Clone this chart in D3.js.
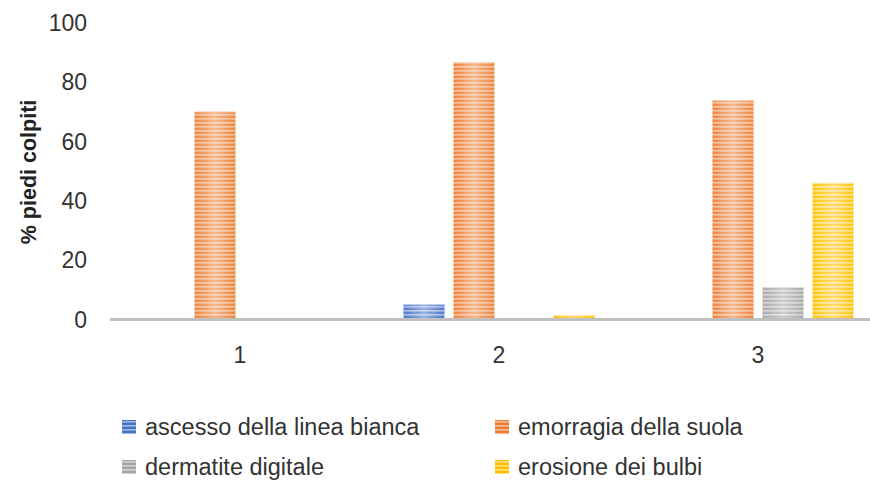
<!DOCTYPE html>
<html>
<head>
<meta charset="utf-8">
<script src="https://cdn.jsdelivr.net/npm/d3@7"></script>
<style>
  html, body { margin: 0; padding: 0; background: #fff; }
  svg { display: block; font-family: "Liberation Sans", Arial, sans-serif; }
</style>
</head>
<body>
<svg id="chart" width="870" height="480"></svg>
<script>
// Categories (groups along the x axis)
const categories = ["1", "2", "3"];

// Series names and colours
const seriesNames = [
  "ascesso della linea bianca",
  "emorragia della suola",
  "dermatite digitale",
  "erosione dei bulbi"
];
const seriesColors = ["#4472C4", "#ED7D31", "#A5A5A5", "#FFC000"];

// Percentage of affected feet per series, one value per category
const ascesso = [0, 5, 0];
const emorragia = [70, 86.7, 73.8];
const dermatite = [0, 0, 10.8];
const erosione = [0, 1.3, 46];

const yTicks = [0, 20, 40, 60, 80, 100];

const seriesValues = [ascesso, emorragia, dermatite, erosione];

const svg = d3.select("#chart");

// Scales
const y = d3.scaleLinear().domain([0, 100]).range([319.5, 23]);
const x0 = d3.scaleBand().domain(categories).range([110.5, 887.5]).padding(0);
const x1 = d3.scaleBand().domain(d3.range(seriesNames.length))
  .range([-100, 100]).paddingInner(0.18).paddingOuter(0.09);

// Striped fill patterns with a soft horizontal sheen
const defs = svg.append("defs");
const sheen = defs.append("linearGradient").attr("id", "sheen")
  .attr("x1", "0%").attr("x2", "100%").attr("y1", "0%").attr("y2", "0%");
sheen.append("stop").attr("offset", "0%").attr("stop-color", "#fff").attr("stop-opacity", 0.05);
sheen.append("stop").attr("offset", "50%").attr("stop-color", "#fff").attr("stop-opacity", 0.45);
sheen.append("stop").attr("offset", "100%").attr("stop-color", "#fff").attr("stop-opacity", 0.05);

seriesColors.forEach((c, i) => {
  const p = defs.append("pattern")
    .attr("id", "stripe" + i)
    .attr("patternUnits", "userSpaceOnUse")
    .attr("width", 8).attr("height", 4);
  p.append("rect").attr("width", 8).attr("height", 4).attr("fill", c);
  p.append("rect").attr("y", 2).attr("width", 8).attr("height", 1.6)
    .attr("fill", d3.interpolateRgb(c, "#fff")(0.5));
});

// Y axis tick labels (no gridlines)
svg.append("g").selectAll("text").data(yTicks).join("text")
  .attr("x", 87).attr("y", d => y(d))
  .attr("dy", "0.35em")
  .attr("text-anchor", "end")
  .attr("font-size", 23)
  .attr("fill", "#333")
  .text(d => d);

// Y axis title
svg.append("text")
  .attr("transform", `translate(36,${172}) rotate(-90)`)
  .attr("text-anchor", "middle")
  .attr("font-size", 21.5)
  .attr("font-weight", "bold")
  .attr("fill", "#222")
  .text("% piedi colpiti");

// Bars
const groups = svg.append("g").selectAll("g").data(categories).join("g")
  .attr("transform", d => `translate(${x0(d) + x0.bandwidth() / 2},0)`);

groups.each(function (cat, ci) {
  const g = d3.select(this);
  seriesValues.forEach((vals, si) => {
    const v = vals[ci];
    if (v <= 0) return;
    const bx = x1(si), bw = x1.bandwidth();
    g.append("rect")
      .attr("x", bx).attr("y", y(v))
      .attr("width", bw).attr("height", y(0) - y(v))
      .attr("fill", `url(#stripe${si})`)
      .attr("stroke", d3.interpolateRgb(seriesColors[si], "#fff")(0.6))
      .attr("stroke-width", 0.8);
    g.append("rect")
      .attr("x", bx).attr("y", y(v))
      .attr("width", bw).attr("height", y(0) - y(v))
      .attr("fill", "url(#sheen)");
  });
});

// Category axis: baseline and labels
svg.append("line")
  .attr("x1", 110).attr("x2", 870)
  .attr("y1", y(0)).attr("y2", y(0))
  .attr("stroke", "#bfbfbf").attr("stroke-width", 3);

svg.append("g").selectAll("text").data(categories).join("text")
  .attr("x", d => x0(d) + x0.bandwidth() / 2)
  .attr("y", 355)
  .attr("dy", "0.35em")
  .attr("text-anchor", "middle")
  .attr("font-size", 23)
  .attr("fill", "#333")
  .text(d => d);

// Legend in two rows of two
const legendPos = [[122, 427], [495, 427], [122, 467], [495, 467]];
const legend = svg.append("g").selectAll("g").data(seriesNames).join("g")
  .attr("transform", (d, i) => `translate(${legendPos[i][0]},${legendPos[i][1]})`);
legend.append("rect")
  .attr("x", 0).attr("y", -7).attr("width", 14).attr("height", 14)
  .attr("fill", (d, i) => `url(#stripe${i})`);
legend.append("text")
  .attr("x", 23).attr("y", 0).attr("dy", "0.35em")
  .attr("font-size", 23.5)
  .attr("fill", "#333")
  .text(d => d);
</script>
</body>
</html>
